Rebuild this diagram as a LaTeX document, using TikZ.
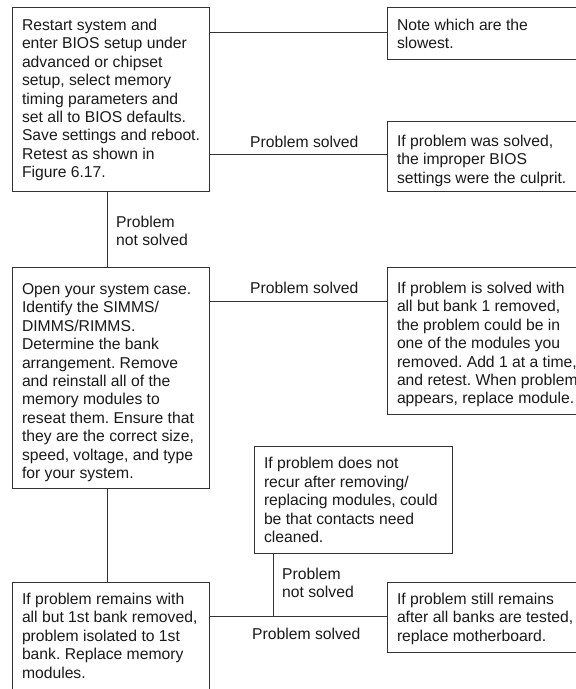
\documentclass[tikz,border=0pt]{standalone}
\usepackage{fontspec}
\setmainfont{Liberation Sans}
\frenchspacing
\newcommand\bxt[4]{\parbox[c][#1][t]{#2}{\frenchspacing\hyphenpenalty=10000\rule{0pt}{#3}#4}}
\newcommand\lbt[1]{\parbox[t]{150pt}{\rule{0pt}{12pt}#1}}
\begin{document}
\begin{tikzpicture}[x=1pt,y=-1pt,
  every node/.style={font=\fontsize{15.7}{18.4}\selectfont, text=black!90},
  bx/.style={draw=black!80, line width=1pt, inner xsep=9.5pt, inner ysep=0pt, anchor=north west},
  lb/.style={inner sep=0pt, anchor=north west},
  cn/.style={draw=black!80, line width=1pt}]
\useasboundingbox (0,0) rectangle (576,689);
\clip (0,0) rectangle (576,689);
% boxes
\node[bx] (b1) at (12,7) {\bxt{184pt}{178pt}{23pt}{Restart system and\\enter BIOS setup under\\advanced or chipset\\setup, select memory\\timing parameters and\\set all to BIOS defaults.\\Save settings and reboot.\\Retest as shown in\\Figure 6.17.}};
\node[bx] (n1) at (387,7) {\bxt{52pt}{201pt}{23pt}{Note which are the\\slowest.}};
\node[bx] (s1) at (387,121) {\bxt{70pt}{201pt}{25pt}{If problem was solved,\\the improper BIOS\\settings were the culprit.}};
\node[bx] (b2) at (12,267) {\bxt{221pt}{178pt}{27pt}{Open your system case.\\Identify the SIMMS/\\DIMMS/RIMMS.\\Determine the bank\\arrangement. Remove\\and reinstall all of the\\memory modules to\\reseat them. Ensure that\\they are the correct size,\\speed, voltage, and type\\for your system.}};
\node[bx] (s2) at (387,267) {\bxt{147pt}{201pt}{26pt}{If problem is solved with\\all but bank 1 removed,\\the problem could be in\\one of the modules you\\removed. Add 1 at a time,\\and retest. When problem\\appears, replace module.}};
\node[bx] (m) at (254,446) {\bxt{107pt}{179pt}{22.4pt}{If problem does not\\recur after removing/\\replacing modules, could\\be that contacts need\\cleaned.}};
\node[bx] (b3) at (12,582) {\bxt{140pt}{178pt}{22pt}{If problem remains with\\all but 1st bank removed,\\problem isolated to 1st\\bank. Replace memory\\modules.}};
\node[bx] (s3) at (387,582) {\bxt{70pt}{201pt}{22pt}{If problem still remains\\after all banks are tested,\\replace motherboard.}};
% connectors
\coordinate (j) at (273,616);
\draw[cn] (b1.east |- 0,32) -- (n1.west |- 0,32);
\draw[cn] (b1.east |- 0,154) -- (s1.west |- 0,154);
\draw[cn] (b1.south -| 107,0) -- (b2.north -| 107,0);
\draw[cn] (b2.east |- 0,301) -- (s2.west |- 0,301);
\draw[cn] (b2.south -| 107,0) -- (b3.north -| 107,0);
\draw[cn] (b3.east |- j) -- (s3.west |- j);
\draw[cn] (m.south -| j) -- (j);
% labels
\node[lb] (l1) at (116,215) {\lbt{Problem\\not solved}};
\node[lb] (l2) at (250,135) {\lbt{Problem solved}};
\node[lb] (l3) at (250,281) {\lbt{Problem solved}};
\node[lb] (l4) at (282,567) {\lbt{Problem\\not solved}};
\node[lb] (l5) at (252,627) {\lbt{Problem solved}};
\end{tikzpicture}
\end{document}
